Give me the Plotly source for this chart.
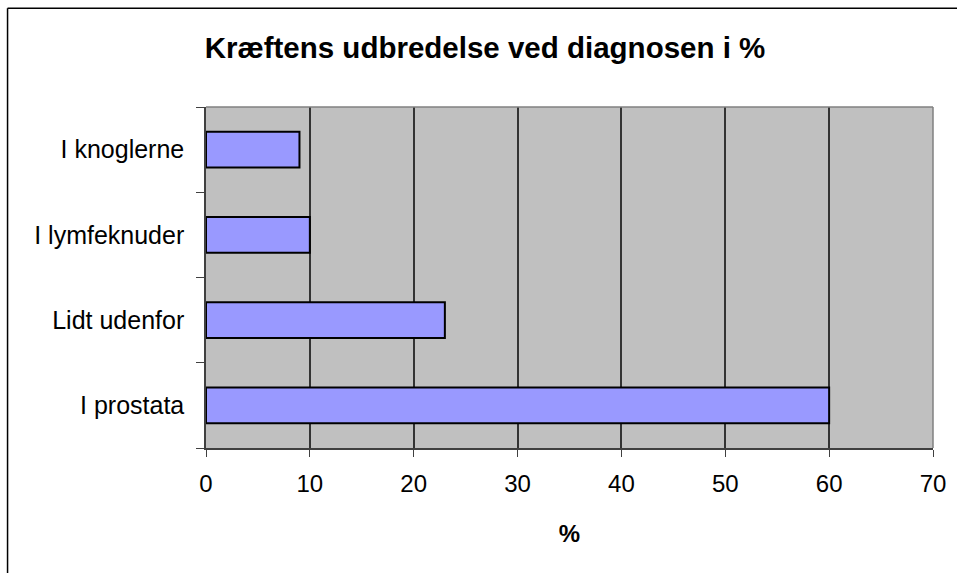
import plotly.graph_objects as go

categories = ["I prostata", "Lidt udenfor", "I lymfeknuder", "I knoglerne"]
values = [60, 23, 10, 9]
x_ticks = [0, 10, 20, 30, 40, 50, 60, 70]
title_text = "Kræftens udbredelse ved diagnosen i %"
x_title = "%"

W, H = 957, 573
L, R, T, B = 205.5, 24.3, 106.7, 125.3
PW, PH = W - L - R, H - T - B

def px(xp):
    return (xp - L) / PW

def py(yp):
    return 1 - (yp - T) / PH

FONT = "Liberation Sans, Arial, sans-serif"

fig = go.Figure(go.Bar(
    y=categories, x=values, orientation="h",
    marker=dict(color="#9999FF", line=dict(color="#000000", width=2)),
))

fig.update_layout(
    width=W, height=H,
    margin=dict(l=L, r=R, t=T, b=B, autoexpand=False),
    paper_bgcolor="#FFFFFF", plot_bgcolor="#C0C0C0",
    bargap=0.58, showlegend=False,
    font=dict(family=FONT, color="#000000", size=24),
    title=dict(text="<b>" + title_text + "</b>", x=485 / W, xref="container", xanchor="center",
               y=1 - 48 / H, yref="container", yanchor="middle",
               font=dict(family=FONT, size=29.5, color="#000000")),
    xaxis=dict(range=[0, 70], tickvals=x_ticks, ticktext=[str(v) for v in x_ticks],
               showgrid=True, gridcolor="#333333", gridwidth=1.5,
               showline=True, linecolor="#404040", linewidth=1.5,
               ticks="outside", ticklen=7, tickcolor="#404040", tickwidth=1.3,
               tickfont=dict(size=24), ticklabelstandoff=6, zeroline=False, fixedrange=True,
               title=dict(text="<b>" + x_title + "</b>", font=dict(size=24), standoff=30)),
    yaxis=dict(categoryorder="array", categoryarray=categories,
               showgrid=False, showline=True, linecolor="#404040", linewidth=1.5,
               ticks="outside", ticklen=8, tickcolor="#404040", tickwidth=1.3,
               tickson="boundaries", tickfont=dict(size=25), ticklabelstandoff=15,
               zeroline=False, fixedrange=True),
)

# plot-area top and right border (gray)
fig.add_shape(type="line", xref="paper", yref="paper", x0=0, x1=1, y0=1, y1=1,
              line=dict(color="#808080", width=1.5), layer="above")
fig.add_shape(type="line", xref="paper", yref="paper", x0=1, x1=1, y0=0, y1=1,
              line=dict(color="#808080", width=1.5), layer="above")
# outer chart frame (top and left visible)
fig.add_shape(type="line", xref="paper", yref="paper", x0=px(7), x1=px(W + 5), y0=py(8), y1=py(8),
              line=dict(color="#000000", width=1.5), layer="above")
fig.add_shape(type="line", xref="paper", yref="paper", x0=px(7), x1=px(7), y0=py(8), y1=py(H + 5),
              line=dict(color="#000000", width=1.5), layer="above")

fig.write_html("out.html", config={"displayModeBar": False},
               post_script="document.body.style.margin='0';")
